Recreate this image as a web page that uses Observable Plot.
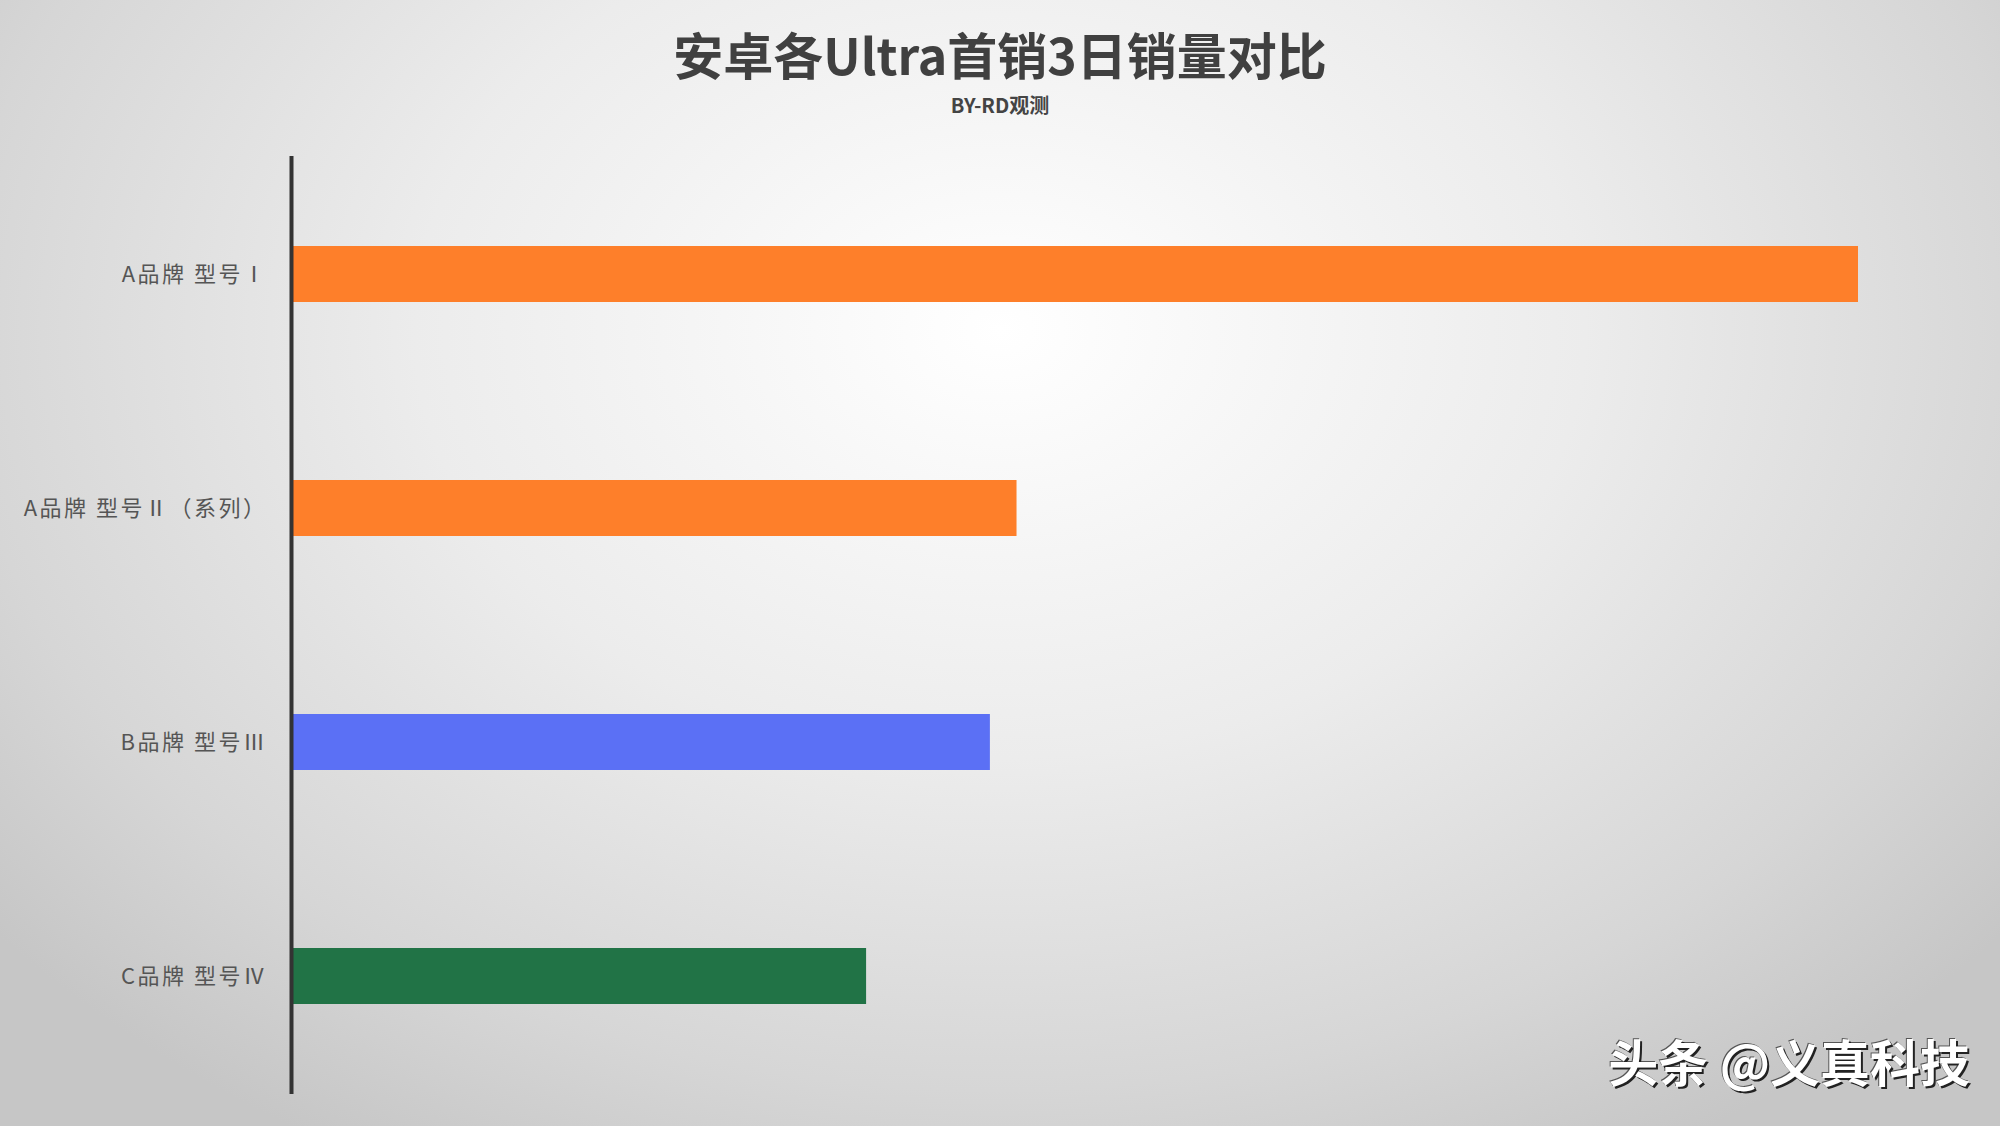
<!DOCTYPE html>
<html>
<head>
<meta charset="utf-8">
<script src="https://cdn.jsdelivr.net/npm/d3@7"></script>
<script src="https://cdn.jsdelivr.net/npm/@observablehq/plot@0.6"></script>
<style>
  html, body { margin: 0; padding: 0; }
  #wrap {
    position: relative; width: 2000px; height: 1126px; overflow: hidden;
    background: radial-gradient(ellipse 1300px 950px at 1000px 330px, #ffffff 0%, #ececec 45%, #d6d6d6 80%, #c6c6c6 100%);
    font-family: "Noto Sans CJK SC", "Noto Sans", sans-serif;
  }
  #title {
    position: absolute; left: 0; width: 2000px; top: 18px; text-align: center;
    font-size: 50px; font-weight: 700; color: #404040; line-height: 70px;
  }
  #subtitle {
    position: absolute; left: 0; width: 2000px; top: 92px; text-align: center;
    font-size: 20px; font-weight: 700; color: #444; line-height: 26px;
  }
  #chart { position: absolute; left: 0; top: 0; }
  #chart svg text { letter-spacing: 2.5px; }
  #mark {
    position: absolute; right: 30px; top: 1030px; font-size: 50px; font-weight: 700;
    color: #fff; text-shadow: 2px 2px 0 #222, -1px -1px 0 #555; line-height: 60px;
  }
</style>
</head>
<body>
<div id="wrap">
  <div id="title">安卓各Ultra首销3日销量对比</div>
  <div id="subtitle">BY-RD观测</div>
  <div id="chart"></div>
  <div id="mark">头条 @义真科技</div>
</div>
<script>
const categories = ["A品牌 型号Ⅰ", "A品牌 型号Ⅱ（系列）", "B品牌 型号Ⅲ", "C品牌 型号Ⅳ"];
const values = [100, 46.3, 44.6, 36.7];
const colors = ["#fe7f2a", "#fe7f2a", "#5b70f5", "#217346"];

const data = categories.map((c, i) => ({category: c, value: values[i], color: colors[i]}));

const chart = Plot.plot({
  width: 2000,
  height: 1126,
  marginTop: 156,
  marginBottom: 32,
  marginLeft: 291,
  marginRight: 142,
  style: {background: "transparent", fontFamily: "'Noto Sans CJK SC', sans-serif"},
  x: {domain: [0, 100], axis: null},
  y: {domain: categories, paddingInner: 0.76, paddingOuter: 0.38, label: null},
  marks: [
    Plot.barX(data, {x: "value", y: "category", fill: "color"}),
    Plot.ruleX([0], {stroke: "#333", strokeWidth: 4}),
    Plot.axisY({tickSize: 0, tickPadding: 24, fontSize: 22, label: null, color: "#555"})
  ]
});
document.getElementById("chart").appendChild(chart);
</script>
</body>
</html>
